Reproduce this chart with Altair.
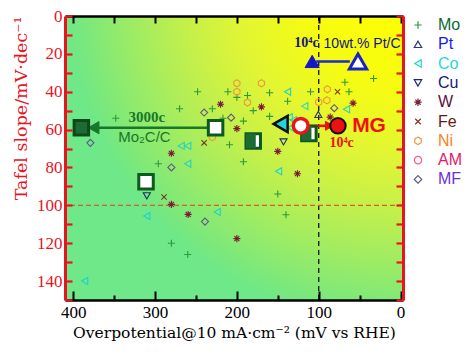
import altair as alt
import pandas as pd

W, H = 338, 284
SERIF = "Liberation Serif"
TSERIF = "DejaVu Serif"
SANS = "Liberation Sans"
RED_AX = "#e8141e"

# ---------------- data ----------------
cats = ["Mo", "Pt", "Co", "Cu", "W", "Fe", "Ni", "AM", "MF"]
marker_colors = ["#2e9a3e", "#34347a", "#1fd3c8", "#1c2a6e", "#7c1a3c", "#7a3a1e", "#f0963a", "#ff5a96", "#5e5888"]
label_colors = ["#0b6a2c", "#1a1af0", "#1fd8d8", "#16167a", "#5a1040", "#641a12", "#ff7f1e", "#e8186a", "#6a34d2"]

mo_x = [348, 270, 248, 230, 217, 211, 200, 209, 296, 187, 180, 160, 192, 160, 138, 110, 68, 33, 63, 192, 150, 140, 280, 260]
mo_y = [54, 49, 40, 49, 54, 40, 43, 68, 78, 42, 50, 40.5, 55.5, 53, 45, 40, 35, 33, 40, 77, 94, 105, 120, 126]
pt_x = [100.5]
pt_y = [52]
co_x = [268, 260, 260, 310, 386, 149, 224, 138, 117, 66, 136, 131, 134]
co_y = [68.6, 68.6, 78, 105.6, 140, 82, 103.5, 40, 47.6, 49.3, 53.5, 55, 59]
cu_x = [310, 143]
cu_y = [95, 66.5]
w_x = [220, 280, 200, 170, 150, 58, 126, 86, 280, 259.5, 200]
w_y = [46.6, 72.5, 59.5, 48, 71.5, 46, 83.3, 53.4, 99.5, 104.8, 117.6]
fe_x = [240, 289, 77]
fe_y = [67, 95.6, 40]
ni_x = [200, 200, 230, 170, 187, 89.5, 100, 90]
ni_y = [35.5, 40, 64, 35.5, 45.7, 38.7, 45.5, 44.5]
am_x = []
am_y = []
mf_x = [379, 240, 207, 280, 239, 81]
mf_y = [67, 51, 53.7, 80, 108.6, 48.7]

vline_x = [100]
hline_y = [100]

sq_fill_x, sq_fill_y = [390], [59]
sq_open_x, sq_open_y = [226, 311], [59, 87.5]
sq_half_x, sq_half_y = [180, 112], [66, 62]
pt_open_x, pt_open_y = [52], [24]
pt_solid_x, pt_solid_y = [108], [24]
mg_start_x, mg_start_y = [122], [58]
mg_end_x, mg_end_y = [76.5], [58]
co_big_x, co_big_y = [146.5], [57]

arrow_mo_x, arrow_mo_x2, arrow_mo_y = [222], [372], [59]
arrow_pt_x, arrow_pt_x2, arrow_pt_y = [62], [103], [24]
arrow_mg_x, arrow_mg_x2, arrow_mg_y = [117], [86], [58]
head_mo_x, head_mo_y = [375], [59]
head_mg_x, head_mg_y = [87], [58]

ann_text = ["3000c", "Mo\u2082C/C", "10\u2074c", "10wt.% Pt/C", "MG", "10\u2074c"]
ann_x = [310, 313, 115, 47, 38.5, 72]
ann_y = [53.5, 64, 14.5, 15, 58, 67]

# ---------------- helpers ----------------
PLUS = "M-1,0L1,0M0,-1L0,1"
STAR = "M-1,0L1,0M0,-1L0,1M-0.7,-0.7L0.7,0.7M-0.7,0.7L0.7,-0.7"
XMARK = "M-0.75,-0.75L0.75,0.75M-0.75,0.75L0.75,-0.75"
HEX = "M0,-1L0.87,-0.5L0.87,0.5L0,1L-0.87,0.5L-0.87,-0.5Z"
HALF = "M-1,-1L0.35,-1L0.35,1L-1,1Z"
shapes = [PLUS, "triangle-up", "triangle-left", "triangle-down", STAR, XMARK, HEX, "circle", "diamond"]

xscale = alt.Scale(domain=[410, -3], nice=False, zero=False)
yscale = alt.Scale(domain=[150, 0], nice=False, zero=False)


def XE(axis=None):
    return alt.X("x:Q", scale=xscale, axis=axis)


def YE(axis=None):
    return alt.Y("y:Q", scale=yscale, axis=axis)


def df_xy(xs, ys):
    return pd.DataFrame({"x": xs, "y": ys})


rows = []
for c, xs, ys in [("Mo", mo_x, mo_y), ("Pt", pt_x, pt_y), ("Co", co_x, co_y), ("Cu", cu_x, cu_y),
                  ("W", w_x, w_y), ("Fe", fe_x, fe_y), ("Ni", ni_x, ni_y), ("AM", am_x, am_y),
                  ("MF", mf_x, mf_y)]:
    for a, b in zip(xs, ys):
        rows.append({"x": a, "y": b, "cat": c})
pts_df = pd.DataFrame(rows)

# ---------------- axes ----------------
ax_bottom = alt.Axis(orient="bottom", values=[400, 300, 200, 100, 0], ticks=False, tickSize=0,
                     domainColor="black", domainWidth=2.5, labelFont=SERIF, labelFontSize=17,
                     labelColor="black", labelPadding=4, grid=False, zindex=1,
                     title="Overpotential@10 mA\u00b7cm\u207b\u00b2 (mV vs RHE)", titleFont=TSERIF,
                     titleFontSize=15.5, titleFontWeight="normal", titleColor="black", titlePadding=5)
ax_left = alt.Axis(orient="left", values=list(range(0, 150, 20)), ticks=False, tickSize=0,
                   domainColor=RED_AX, domainWidth=3, labelFont=SERIF, labelFontSize=17,
                   labelColor=RED_AX, labelPadding=3, grid=False, zindex=1,
                   title="Tafel slope/mV\u00b7dec\u207b\u00b9", titleFont=TSERIF, titleFontSize=17.5,
                   titleFontWeight="normal", titleColor=RED_AX, titleAnchor="end", titlePadding=6)
ax_xtick_major = alt.Axis(orient="top", offset=-H, values=[400, 300, 200, 100, 0], labels=False,
                          domain=False, tickSize=9, tickWidth=2, tickColor="black", grid=False,
                          title=None, zindex=1)
ax_xtick_minor = alt.Axis(orient="top", offset=-H, values=[350, 250, 150, 50], labels=False,
                          domain=False, tickSize=5, tickWidth=2, tickColor="black", grid=False,
                          title=None, zindex=1)
ax_top = alt.Axis(orient="bottom", offset=-H, values=list(range(0, 401, 50)), labels=False,
                  domain=True, domainColor="black", domainWidth=2.5, tickSize=7, tickWidth=2,
                  tickColor="black", grid=False, title=None, zindex=1)
ax_yticks_left = alt.Axis(orient="right", offset=-W, values=list(range(0, 151, 10)), labels=False,
                          domain=False, tickSize=7, tickWidth=2.2, tickColor=RED_AX, grid=False,
                          title=None, zindex=1)
ax_right = alt.Axis(orient="left", offset=-W, values=list(range(0, 151, 10)), labels=False,
                    domain=True, domainColor=RED_AX, domainWidth=3, tickSize=7, tickWidth=2.2,
                    tickColor=RED_AX, grid=False, title=None, zindex=1)

# ---------------- layers ----------------
bg = alt.Chart(alt.Data(values=[{}])).mark_rect(
    fill=alt.RadialGradient(
        gradient="radial",
        stops=[alt.GradientStop(offset=0, color="#ffff00"),
               alt.GradientStop(offset=0.3, color="#f6fb12"),
               alt.GradientStop(offset=0.5, color="#e0f535"),
               alt.GradientStop(offset=0.65, color="#c4f04a"),
               alt.GradientStop(offset=0.8, color="#a0ec62"),
               alt.GradientStop(offset=0.95, color="#7ae87c"),
               alt.GradientStop(offset=1, color="#6ee888")],
        x1=1, y1=0, r1=0, x2=1, y2=0, r2=1)
).encode(x=alt.value(0), x2=alt.value("width"), y=alt.value(0), y2=alt.value("height"))

vline = alt.Chart(pd.DataFrame({"x": vline_x})).mark_rule(
    color="#222", strokeWidth=1.4, strokeDash=[5, 4]).encode(x=XE(ax_xtick_major))
hline = alt.Chart(pd.DataFrame({"y": hline_y})).mark_rule(
    color="#d2602a", strokeWidth=1.3, strokeDash=[5, 3]).encode(y=YE(ax_yticks_left))

label_expr = " : ".join(f"datum.value == '{c}' ? '{lc}'" for c, lc in zip(cats, label_colors)) + " : 'black'"
legend = alt.Legend(title=None, orient="none", legendX=345, legendY=1, symbolSize=55,
                    symbolStrokeWidth=1.2, labelFont=SANS, labelFontSize=16,
                    labelColor={"expr": label_expr}, rowPadding=3.3, labelOffset=12, padding=0)

pts = alt.Chart(pts_df).mark_point(filled=False, size=50, strokeWidth=1.1, opacity=1).encode(
    x=XE(ax_bottom), y=YE(ax_left),
    color=alt.Color("cat:N", scale=alt.Scale(domain=cats, range=marker_colors), legend=legend),
    shape=alt.Shape("cat:N", scale=alt.Scale(domain=cats, range=shapes), legend=legend),
)


def rule(xs, x2s, ys, color, xaxis=None, yaxis=None):
    d = pd.DataFrame({"x": xs, "x2": x2s, "y": ys})
    return alt.Chart(d).mark_rule(color=color, strokeWidth=2.6).encode(
        x=XE(xaxis), x2=alt.X2("x2"), y=YE(yaxis))


def marker(xs, ys, shape, size, fill, stroke, sw):
    return alt.Chart(df_xy(xs, ys)).mark_point(
        shape=shape, size=size, filled=True, fill=fill, stroke=stroke, strokeWidth=sw, opacity=1
    ).encode(x=XE(), y=YE())


arrow_mo = rule(arrow_mo_x, arrow_mo_x2, arrow_mo_y, "#17782a", xaxis=ax_xtick_minor)
arrow_pt = rule(arrow_pt_x, arrow_pt_x2, arrow_pt_y, "#1b2bd0", xaxis=ax_top, yaxis=ax_right)
arrow_mg = rule(arrow_mg_x, arrow_mg_x2, arrow_mg_y, "#ee1111")
head_mo = marker(head_mo_x, head_mo_y, "triangle-left", 150, "#17782a", "#17782a", 1)
head_mg = marker(head_mg_x, head_mg_y, "triangle-right", 80, "#ee1111", "#ee1111", 1)

sq_fill = marker(sq_fill_x, sq_fill_y, "square", 210, "#1d6a32", "#0c4a1a", 3)
sq_open = marker(sq_open_x, sq_open_y, "square", 210, "white", "#0c5a1f", 3)
sq_half_a = marker(sq_half_x, sq_half_y, "square", 210, "white", "#0c5a1f", 3)
sq_half_b = marker(sq_half_x, sq_half_y, HALF, 210, "#1d6a32", "#1d6a32", 0)
pt_open = marker(pt_open_x, pt_open_y, "triangle-up", 300, "white", "#1a22c8", 3)
pt_solid = marker(pt_solid_x, pt_solid_y, "triangle-up", 200, "#1418c8", "#1418c8", 1)
co_big = marker(co_big_x, co_big_y, "triangle-left", 260, "#22d4e0", "#111111", 2.5)
mg_start = marker(mg_start_x, mg_start_y, "circle", 220, "white", "#e8141e", 3.5)
mg_end = marker(mg_end_x, mg_end_y, "circle", 240, "#ee1111", "#111111", 2)


def text(i, font, size, weight, color):
    d = pd.DataFrame({"x": [ann_x[i]], "y": [ann_y[i]], "t": [ann_text[i]]})
    return alt.Chart(d).mark_text(font=font, fontSize=size, fontWeight=weight, color=color,
                                  align="center", baseline="middle").encode(
        x=XE(), y=YE(), text="t:N")


texts = [
    text(0, SERIF, 15, "bold", "#17782a"),
    text(1, SANS, 15, "normal", "#17782a"),
    text(2, SERIF, 14, "bold", "#16167a"),
    text(3, SANS, 14, "normal", "#16167a"),
    text(4, SANS, 21, "bold", "#ee1111"),
    text(5, SERIF, 14, "bold", "#ee1111"),
]

chart = alt.layer(
    bg, vline, hline, pts, arrow_mo, arrow_pt, arrow_mg, head_mo, head_mg,
    sq_fill, sq_open, sq_half_a, sq_half_b, pt_open, pt_solid, co_big, mg_start, mg_end,
    *texts
).resolve_axis(x="independent", y="independent").properties(
    width=W, height=H,
    autosize=alt.AutoSizeParams(type="none"),
    padding={"left": 57, "top": 8, "right": 63, "bottom": 50},
).configure_view(strokeWidth=0)

chart.save("out.html", embed_options={"renderer": "svg", "actions": False})
